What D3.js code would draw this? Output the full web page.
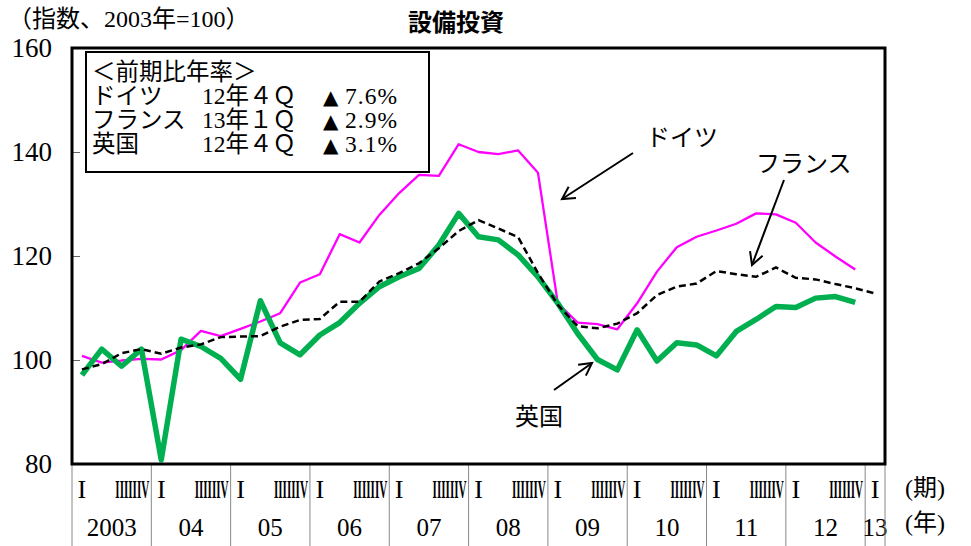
<!DOCTYPE html>
<html><head><meta charset="utf-8">
<script src="https://cdn.jsdelivr.net/npm/d3@7"></script>
<style>body{margin:0;background:#fff;} svg{display:block}</style>
</head><body>
<svg id="c" width="971" height="546"></svg>
<script>
// ---- data ----
const yearLabels = ["2003","04","05","06","07","08","09","10","11","12","13"];
const quarterLabels = ["I","II","III","IV"];
const germany = [100.8, 99.5, 99.9, 100.2, 100.1, 101.9, 105.6, 104.6, 106.0, 107.4,
  109.0, 114.9, 116.5, 124.2, 122.6, 127.9, 132.1, 135.6, 135.4, 141.5,
  140.0, 139.6, 140.3, 136.0, 110.9, 107.2, 106.9, 105.9, 110.9, 117.0,
  121.7, 123.7, 124.9, 126.2, 128.2, 128.0, 126.4, 122.6, 119.9, 117.4];
const france = [98.2, 99.2, 101.3, 102.1, 101.2, 102.4, 103.0, 104.4, 104.5, 104.6,
  106.4, 107.7, 107.9, 111.2, 111.2, 115.1, 116.7, 118.6, 121.5, 124.8,
  126.9, 125.3, 123.6, 116.7, 110.6, 106.5, 106.1, 107.0, 109.0, 112.5,
  114.1, 114.7, 117.1, 116.5, 116.0, 117.8, 115.8, 115.5, 114.6, 113.8, 112.8];
const uk = [97.1, 102.1, 98.8, 102.1, 80.8, 104.0, 102.6, 100.3, 96.3, 111.4,
  103.3, 101.0, 104.8, 107.2, 110.9, 114.1, 116.0, 117.6, 122.1, 128.2,
  123.7, 123.1, 120.2, 116.0, 110.9, 105.1, 100.1, 98.1, 105.8, 99.8,
  103.3, 102.9, 100.8, 105.5, 107.8, 110.3, 110.1, 111.9, 112.2, 111.1];
const yTicks = [80, 100, 120, 140, 160];
const legendTitle = "＜前期比年率＞";
const legendNames = ["ドイツ", "フランス", "英国"];
const legendPeriods = ["12年４Ｑ", "13年１Ｑ", "12年４Ｑ"];
const legendRates = ["7.6%", "2.9%", "3.1%"];   // shown with a leading ▲ (minus)

// categories: 2003Q1 .. 2013Q1
const categories = [];
yearLabels.forEach((y, yi) => quarterLabels.forEach((q, qi) => {
  if (yi < yearLabels.length - 1 || qi === 0) categories.push({year: y, yi, q, qi, key: y + "-" + q});
}));

// ---- layout ----
const svg = d3.select("#c");
const L = 72, R = 885, T = 48, B = 464;
const serif = "'Liberation Serif','Noto Sans CJK JP',serif";
const jp = "'Liberation Serif','Noto Sans CJK JP',sans-serif";
const cjk = "'Noto Sans CJK JP',sans-serif";

const x = d3.scaleBand().domain(categories.map(d => d.key)).range([L, R]).padding(0);
const cx = k => x(k) + x.bandwidth() / 2;
const y = d3.scaleLinear().domain([80, 160]).range([B, T]);

// titles
svg.append("text").attr("x", 8).attr("y", 27).attr("font-family", jp).attr("font-size", 24)
  .text("（指数、2003年=100）");
svg.append("text").attr("x", 456).attr("y", 31).attr("text-anchor", "middle")
  .attr("font-family", cjk).attr("font-weight", "bold").attr("font-size", 24)
  .text("設備投資");

// y axis
const yAxis = svg.append("g").attr("transform", `translate(${L},0)`)
  .call(d3.axisLeft(y).tickValues(yTicks).tickSize(-8).tickPadding(20).tickFormat(d3.format("d")));
yAxis.select(".domain").remove();
yAxis.selectAll(".tick line").attr("stroke", "#666");
yAxis.selectAll("text").attr("font-family", serif).attr("font-size", 27).attr("fill", "#000");

// x axis: separators, quarter labels, year labels
const years = yearLabels.map((yl, yi) => {
  const qs = categories.filter(c => c.yi === yi);
  const start = x(qs[0].key), end = x(qs[qs.length - 1].key) + x.bandwidth();
  return {label: yl, qs, start, end};
});
const xg = svg.append("g");
years.forEach(yr => {
  xg.append("line").attr("x1", yr.start).attr("x2", yr.start).attr("y1", B).attr("y2", 546)
    .attr("stroke", "#888").attr("stroke-width", 1);
  xg.append("text").attr("x", cx(yr.qs[0].key)).attr("y", 498).attr("text-anchor", "middle")
    .attr("font-family", serif).attr("font-size", 26).text(yr.qs[0].q);
  if (yr.qs.length > 1) {
    const rest = yr.qs.slice(1).map(c => c.q).join("");
    const t = xg.append("text").attr("x", 0).attr("y", 0)
      .attr("font-family", serif).attr("font-weight", "bold").attr("font-size", 26).text(rest);
    const w = t.node().getComputedTextLength();
    const target = 34;
    t.attr("transform", `translate(${yr.end - 36},498) scale(${target / w},1)`);
  }
  xg.append("text").attr("x", (yr.start + yr.end) / 2).attr("y", 536).attr("text-anchor", "middle")
    .attr("font-family", serif).attr("font-size", 25).text(yr.label);
});
xg.append("line").attr("x1", R).attr("x2", R).attr("y1", B).attr("y2", 546)
  .attr("stroke", "#888").attr("stroke-width", 1);
svg.append("text").attr("x", 905).attr("y", 496).attr("font-family", jp).attr("font-size", 24).text("(期)");
svg.append("text").attr("x", 905).attr("y", 531).attr("font-family", jp).attr("font-size", 24).text("(年)");

// lines
const line = d3.line().x((d, i) => cx(categories[i].key)).y(d => y(d));
svg.append("path").datum(germany).attr("d", line).attr("fill", "none")
  .attr("stroke", "#ff00ff").attr("stroke-width", 2.3).attr("stroke-linejoin", "round");
svg.append("path").datum(uk).attr("d", line).attr("fill", "none")
  .attr("stroke", "#00b050").attr("stroke-width", 5.5).attr("stroke-linejoin", "round");
svg.append("path").datum(france).attr("d", line).attr("fill", "none")
  .attr("stroke", "#000").attr("stroke-width", 2.5).attr("stroke-dasharray", "7,4");

// frame
svg.append("rect").attr("x", L).attr("y", T).attr("width", R - L).attr("height", B - T)
  .attr("fill", "none").attr("stroke", "#000").attr("stroke-width", 3);

// legend box
svg.append("rect").attr("x", 86).attr("y", 52).attr("width", 343).attr("height", 120)
  .attr("fill", "#fff").attr("stroke", "#000").attr("stroke-width", 2);
const lg = svg.append("g").attr("font-family", jp).attr("font-size", 23.5);
lg.append("text").attr("x", 92).attr("y", 80).text(legendTitle);
legendNames.forEach((n, i) => {
  const by = 104 + i * 24;
  lg.append("text").attr("x", 92).attr("y", by).text(n);
  lg.append("text").attr("x", 202).attr("y", by).text(legendPeriods[i]);
  lg.append("text").attr("x", 323).attr("y", by).attr("font-family", "'DejaVu Sans',sans-serif")
    .attr("font-size", 20).text("▲");
  lg.append("text").attr("x", 345).attr("y", by).attr("letter-spacing", 1).text(legendRates[i]);
});

// annotations
function arrow(x1, y1, x2, y2) {
  const a = Math.atan2(y2 - y1, x2 - x1), len = 14, sp = 0.5;
  const g = svg.append("g").attr("stroke", "#000").attr("stroke-width", 2).attr("fill", "none");
  g.append("line").attr("x1", x1).attr("y1", y1).attr("x2", x2).attr("y2", y2);
  g.append("path").attr("d",
    `M${x2 - len * Math.cos(a - sp)},${y2 - len * Math.sin(a - sp)}L${x2},${y2}L${x2 - len * Math.cos(a + sp)},${y2 - len * Math.sin(a + sp)}`);
}
const ag = svg.append("g").attr("font-family", jp).attr("font-size", 24);
ag.append("text").attr("x", 646).attr("y", 146).text(legendNames[0]);
ag.append("text").attr("x", 756).attr("y", 172).text(legendNames[1]);
ag.append("text").attr("x", 515).attr("y", 425).text(legendNames[2]);
arrow(633, 153, 562, 199);
arrow(784, 180, 752, 265);
arrow(554, 390, 592, 363);
</script>
</body></html>
